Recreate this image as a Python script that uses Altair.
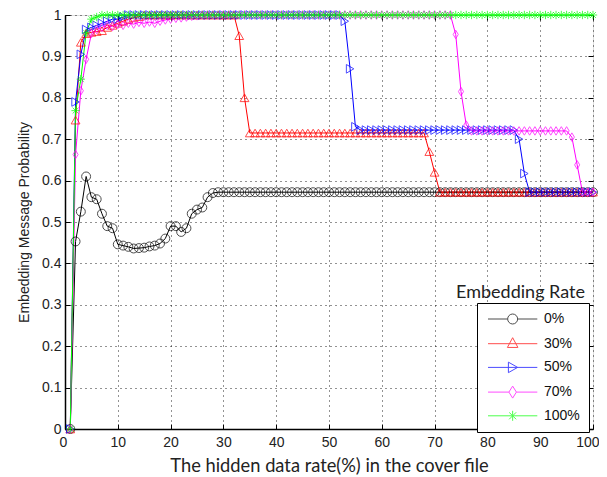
import altair as alt
import pandas as pd

SERIES = ["0%", "30%", "50%", "70%", "100%"]
COLORS = ["#000000", "#ff0000", "#0000ff", "#ff00ff", "#00ff00"]

X = list(range(1, 101))

Y0 = ([0.0, 0.453, 0.525, 0.61, 0.56, 0.555, 0.52, 0.49, 0.485, 0.446,
       0.443, 0.44, 0.436, 0.437, 0.438, 0.441, 0.443, 0.448, 0.46, 0.49,
       0.49, 0.476, 0.485, 0.52, 0.53, 0.535, 0.56, 0.57]
      + [0.572] * 72)

Y30 = ([0.0, 0.746, 0.934, 0.955, 0.958, 0.96, 0.962, 0.97, 0.975, 0.98,
        0.985, 0.99, 0.993, 0.996]
       + [1.0] * 18
       + [0.95, 0.80, 0.715]
       + [0.715] * 33
       + [0.67, 0.62]
       + [0.572] * 30)

Y50 = ([0.0, 0.79, 0.905, 0.965, 0.97, 0.975, 0.98, 0.985, 0.99, 0.99, 0.995]
       + [1.0] * 41
       + [0.985, 0.87, 0.73]
       + [0.722] * 30
       + [0.70, 0.617]
       + [0.572] * 13)

Y70 = ([0.0, 0.663, 0.817, 0.893, 0.955, 0.965, 0.97, 0.975, 0.972, 0.977,
        0.975, 0.98, 0.978, 0.982, 0.98, 0.983, 0.98, 0.985, 0.988, 0.99,
        0.992, 0.993, 0.995, 0.997, 0.998]
       + [1.0] * 48
       + [0.953, 0.815, 0.734]
       + [0.72] * 19
       + [0.705, 0.638]
       + [0.572] * 3)

Y100 = ([0.0, 0.769, 0.845, 0.957, 0.99, 0.995]
        + [1.0] * 94)

VALUES = [Y0, Y30, Y50, Y70, Y100]

rows = []
for name, ys in zip(SERIES, VALUES):
    for xv, yv in zip(X, ys):
        rows.append({"x": xv, "y": yv, "series": name})
df = pd.DataFrame(rows)

W, H = 528, 414
XTICKS = list(range(0, 101, 10))
YTICKS = [i / 10 for i in range(11)]

PLOT_SHAPES = [
    "circle",
    "triangle-up",
    "triangle-right",
    "M0,-1L0.6,0L0,1L-0.6,0Z",
    "M-1,0L1,0M0,-1L0,1M-0.7,-0.7L0.7,0.7M-0.7,0.7L0.7,-0.7",
]
PLOT_SIZES = [80, 70, 70, 130, 100]

# legend symbols: line segment with the marker in its middle (5 px per unit)
LEGEND_PATHS = [
    "M-1,0L2.93,0M4.93,0L8.86,0M2.93,0A1,1,0,1,1,4.93,0A1,1,0,1,1,2.93,0Z",
    "M-1,0L8.86,0M3.93,-1.2L4.98,0.75L2.88,0.75Z",
    "M-1,0L8.86,0M3.08,-1.05L4.93,0L3.08,1.05Z",
    "M-1,0L3.18,0M4.68,0L8.86,0M3.93,-1.2L4.68,0L3.93,1.2L3.18,0Z",
    "M-1,0L8.86,0M3.93,-1L3.93,1M3.23,-0.7L4.63,0.7M3.23,0.7L4.63,-0.7",
]

xscale = alt.Scale(domain=[0, 100], nice=False, zero=False)
yscale = alt.Scale(domain=[0, 1], nice=False)

legend = alt.Legend(
    title=None,
    orient="none",
    legendX=412,
    legendY=288,
    padding=9,
    strokeColor="black",
    fillColor="white",
    cornerRadius=0,
    labelFont="Liberation Sans",
    labelFontSize=14,
    labelColor="#111111",
    labelExpr="datum.label + '  '",
    symbolSize=100,
    labelOffset=44,
    rowPadding=8.7,
    symbolStrokeWidth=1,
    symbolFillColor="transparent",
)

label_font = "Liberation Sans"

x_axis = alt.Axis(
    values=XTICKS, grid=True, gridColor="black", gridDash=[1, 4], gridOpacity=0.85,
    gridWidth=1, tickSize=0, labelFont=label_font, labelFontSize=14,
    labelColor="#222222", labelPadding=6, labelFlush=True, labelFlushOffset=6,
    domainColor="black", domainWidth=1.5,
    title="The hidden data rate(%) in the cover file", titleFont="Lato",
    titleFontSize=18.3, titleFontWeight="normal", titleColor="#222222", titlePadding=8,
)
y_axis = alt.Axis(
    values=YTICKS, grid=True, gridColor="black", gridDash=[1, 4], gridOpacity=0.85,
    gridWidth=1, tickSize=0, labelFont=label_font, labelFontSize=14,
    labelColor="#222222", labelPadding=4, domainColor="black", domainWidth=1.5,
    labelExpr="datum.value == 0 ? '0' : datum.value == 1 ? '1' : format(datum.value, '.1f')",
    title="Embedding Message Probability", titleFont=label_font,
    titleFontSize=14, titleFontWeight="normal", titleColor="#222222", titlePadding=10,
)

base = alt.Chart(df)

lines = base.mark_line(strokeWidth=1).encode(
    x=alt.X("x:Q", scale=xscale, axis=x_axis),
    y=alt.Y("y:Q", scale=yscale, axis=y_axis),
    color=alt.Color("series:N", scale=alt.Scale(domain=SERIES, range=COLORS), legend=None),
)

points = base.mark_point(filled=False, strokeWidth=1).encode(
    x=alt.X("x:Q", scale=xscale, axis=None),
    y=alt.Y("y:Q", scale=yscale, axis=None),
    color=alt.Color("series:N", scale=alt.Scale(domain=SERIES, range=COLORS), legend=None),
    shape=alt.Shape("series:N", scale=alt.Scale(domain=SERIES, range=PLOT_SHAPES), legend=None),
    size=alt.Size("series:N", scale=alt.Scale(domain=SERIES, range=PLOT_SIZES), legend=None),
)

legend_layer = base.transform_filter("false").mark_point(filled=False, strokeWidth=1).encode(
    x=alt.X("x:Q", scale=xscale, axis=None),
    y=alt.Y("y:Q", scale=yscale, axis=None),
    color=alt.Color("series:N", scale=alt.Scale(domain=SERIES, range=COLORS), legend=legend),
    shape=alt.Shape("series:N", scale=alt.Scale(domain=SERIES, range=LEGEND_PATHS), legend=legend),
)

tick_common = dict(values=XTICKS, labels=False, domain=False, grid=False, tickSize=5,
                   tickColor="black", title=None)
ytick_common = dict(values=YTICKS, labels=False, domain=False, grid=False, tickSize=5,
                    tickColor="black", title=None)

ticks_a = base.mark_point(opacity=0).encode(
    x=alt.X("x:Q", scale=xscale, axis=alt.Axis(orient="top", offset=-H, **tick_common)),
    y=alt.Y("y:Q", scale=yscale, axis=alt.Axis(orient="right", offset=-W, **ytick_common)),
)
ticks_b = base.mark_point(opacity=0).encode(
    x=alt.X("x:Q", scale=xscale, axis=alt.Axis(orient="bottom", offset=-H, **tick_common)),
    y=alt.Y("y:Q", scale=yscale, axis=alt.Axis(orient="left", offset=-W, **ytick_common)),
)

title_text = alt.Chart(pd.DataFrame({"t": ["Embedding Rate"]})).mark_text(
    align="right", baseline="middle", font="Lato", fontSize=18, color="#222222"
).encode(text="t:N", x=alt.value(520), y=alt.value(278))

chart = (
    alt.layer(lines, points, legend_layer, ticks_a, ticks_b, title_text)
    .resolve_axis(x="independent", y="independent")
    .resolve_scale(color="independent", shape="independent", size="independent")
    .properties(
        width=W,
        height=H,
        autosize=alt.AutoSizeParams(type="none"),
        padding={"left": 57, "top": 7, "right": 6, "bottom": 47},
    )
    .configure_view(stroke="black", strokeWidth=1.5)
    .configure(background="white")
)

chart.save("out.html", embed_options={"renderer": "svg", "actions": False})
